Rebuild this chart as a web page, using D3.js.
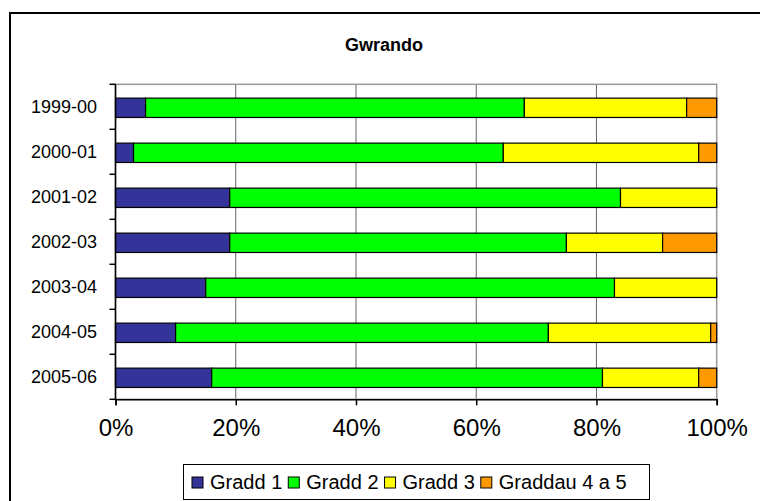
<!DOCTYPE html>
<meta charset="utf-8">
<html>
<head>
<script src="https://d3js.org/d3.v7.min.js"></script>
<style>
  body { margin: 0; background: white; }
  text { font-family: "Liberation Sans", Arial, sans-serif; }
</style>
</head>
<body>
<svg id="chart" width="760" height="501"></svg>
<script>
// data (percent of pupils)
var years = ["1999-00", "2000-01", "2001-02", "2002-03", "2003-04", "2004-05", "2005-06"];
var gradd1 = [5, 3, 19, 19, 15, 10, 16];
var gradd2 = [63, 61.5, 65, 56, 68, 62, 65];
var gradd3 = [27, 32.5, 16, 16, 17, 27, 16];
var gradd45 = [5, 3, 0, 9, 0, 1, 3];
var seriesNames = ["Gradd 1", "Gradd 2", "Gradd 3", "Graddau 4 a 5"];
var xTicks = [0, 20, 40, 60, 80, 100];

var colors = ["#333399", "#00ff00", "#ffff00", "#ff9900"];

var svg = d3.select("#chart");

// outer frame (runs off the right / bottom of the picture)
svg.append("rect")
    .attr("x", 10).attr("y", 13)
    .attr("width", 800).attr("height", 600)
    .attr("fill", "white")
    .attr("stroke", "black")
    .attr("stroke-width", 2);

// title
svg.append("text")
    .attr("x", 384).attr("y", 51)
    .attr("text-anchor", "middle")
    .style("font-size", "18px")
    .style("font-weight", "bold")
    .text("Gwrando");

var plot = {left: 115.5, right: 716.7, top: 84.3, bottom: 399.3};

var x = d3.scaleLinear().domain([0, 100]).range([plot.left, plot.right]);
var y = d3.scaleBand().domain(years)
    .range([plot.top, plot.bottom])
    .paddingInner(0.57).paddingOuter(0.285);

// build the stack table
var table = years.map(function(yr, i) {
  return {year: yr, "Gradd 1": gradd1[i], "Gradd 2": gradd2[i], "Gradd 3": gradd3[i], "Graddau 4 a 5": gradd45[i]};
});
var stacked = d3.stack().keys(seriesNames)(table);

// gridlines
svg.append("g").selectAll("line")
    .data(xTicks.slice(1, -1))
    .enter().append("line")
    .attr("x1", function(d) { return x(d); })
    .attr("x2", function(d) { return x(d); })
    .attr("y1", plot.top).attr("y2", plot.bottom)
    .attr("stroke", "#666")
    .attr("stroke-width", 1);

// plot border
svg.append("rect")
    .attr("x", plot.left).attr("y", plot.top)
    .attr("width", plot.right - plot.left)
    .attr("height", plot.bottom - plot.top)
    .attr("fill", "none")
    .attr("stroke", "#999")
    .attr("stroke-width", 1.5);

// bars
svg.append("g").selectAll("g")
    .data(stacked)
    .enter().append("g")
    .attr("fill", function(d, i) { return colors[i]; })
  .selectAll("rect")
    .data(function(d) { return d.filter(function(p) { return p[1] - p[0] > 0; }); })
    .enter().append("rect")
    .attr("x", function(d) { return x(d[0]); })
    .attr("width", function(d) { return x(d[1]) - x(d[0]); })
    .attr("y", function(d) { return y(d.data.year) + 1; })
    .attr("height", y.bandwidth())
    .attr("stroke", "black")
    .attr("stroke-width", 1.2);

// y axis with ticks between categories
var yAxis = svg.append("g");
yAxis.append("line")
    .attr("x1", plot.left).attr("x2", plot.left)
    .attr("y1", plot.top).attr("y2", plot.bottom)
    .attr("stroke", "black").attr("stroke-width", 1.5);
var bounds = years.map(function(d) { return y(d) - y.step() * y.paddingOuter(); });
bounds.push(plot.bottom);
yAxis.selectAll(".tk").data(bounds).enter().append("line")
    .attr("x1", plot.left - 6).attr("x2", plot.left)
    .attr("y1", function(d) { return d; }).attr("y2", function(d) { return d; })
    .attr("stroke", "black").attr("stroke-width", 1.5);
yAxis.selectAll("text").data(years).enter().append("text")
    .attr("x", 97)
    .attr("y", function(d) { return y(d) + y.bandwidth() / 2 + 6.5; })
    .attr("text-anchor", "end")
    .style("font-size", "18px")
    .text(function(d) { return d; });

// x axis
var xAxis = svg.append("g")
    .attr("transform", "translate(0," + plot.bottom + ")")
    .call(d3.axisBottom(x).tickValues(xTicks).tickSize(6).tickPadding(14)
      .tickFormat(function(d) { return d + "%"; }));
xAxis.select(".domain").attr("stroke-width", 1.5);
xAxis.selectAll(".tick line").attr("stroke-width", 1.5);
xAxis.selectAll("text")
    .style("font-size", "24px")
    .style("font-family", "'Liberation Sans', Arial, sans-serif");

// legend
var legend = svg.append("g");
legend.append("rect")
    .attr("x", 183.5).attr("y", 464.5)
    .attr("width", 466).attr("height", 35)
    .attr("fill", "white")
    .attr("stroke", "black").attr("stroke-width", 1);
var lx = 192;
seriesNames.forEach(function(name, i) {
  legend.append("rect")
      .attr("x", lx).attr("y", 477)
      .attr("width", 11).attr("height", 11)
      .attr("fill", colors[i])
      .attr("stroke", "black").attr("stroke-width", 1);
  var t = legend.append("text")
      .attr("x", lx + 18).attr("y", 489)
      .style("font-size", "20px")
      .text(name);
  lx = lx + 18 + t.node().getComputedTextLength() + 6;
});
</script>
</body>
</html>
